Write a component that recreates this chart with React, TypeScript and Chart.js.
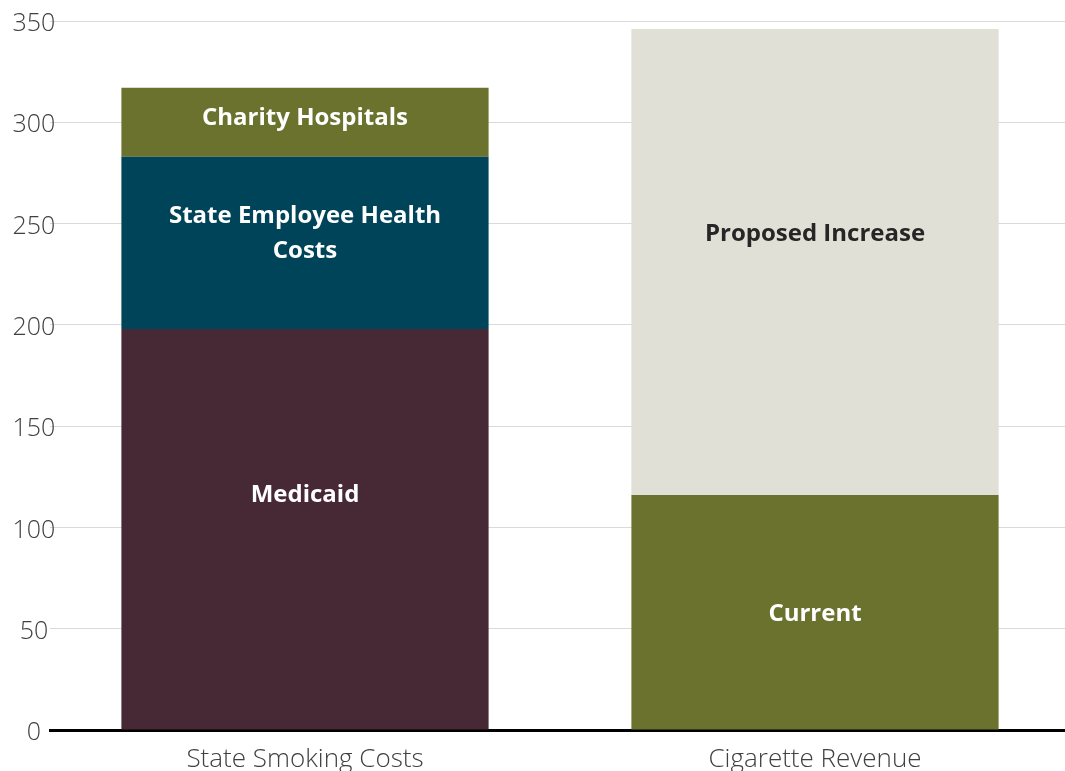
import React, { useEffect, useRef } from 'react';
import { Chart, registerables } from 'chart.js';

Chart.register(...registerables);

const categories = ['State Smoking Costs', 'Cigarette Revenue'];
const medicaid = [198, null];
const employeeHealth = [85, null];
const charityHospitals = [34, null];
const currentRevenue = [null, 116];
const proposedIncrease = [null, 230];
const yMin = 0;
const yMax = 350;
const yStep = 50;

const barLabelsPlugin = {
  id: 'barLabels',
  afterDatasetsDraw(chart: any) {
    const ctx = chart.ctx;
    chart.data.datasets.forEach((ds: any, i: number) => {
      const meta = chart.getDatasetMeta(i);
      meta.data.forEach((el: any, j: number) => {
        const v = ds.data[j];
        if (v == null) return;
        const lines: string[] = ds.labelLines || [];
        const cx = el.x;
        const cy = (el.y + el.base) / 2 + (ds.labelDy || 0);
        const lh = 35;
        ctx.save();
        ctx.font = 'bold 24px "Open Sans", sans-serif';
        ctx.fillStyle = ds.labelColor || '#ffffff';
        ctx.textAlign = 'center';
        ctx.textBaseline = 'middle';
        lines.forEach((l, k) => {
          ctx.fillText(l, cx, cy + (k - (lines.length - 1) / 2) * lh);
        });
        ctx.restore();
      });
    });
  },
};

export default function App() {
  const canvasRef = useRef<HTMLCanvasElement | null>(null);

  useEffect(() => {
    let chart: Chart | null = null;
    let cancelled = false;
    const make = () => {
      if (cancelled || !canvasRef.current) return;
      chart = new Chart(canvasRef.current, {
        type: 'bar',
        data: {
          labels: categories,
          datasets: [
            { label: 'Medicaid', data: medicaid, backgroundColor: '#472935', labelLines: ['Medicaid'], labelDy: -34 } as any,
            { label: 'State Employee Health Costs', data: employeeHealth, backgroundColor: '#004459', labelLines: ['State Employee Health', 'Costs'], labelDy: -9 } as any,
            { label: 'Charity Hospitals', data: charityHospitals, backgroundColor: '#6B722D', labelLines: ['Charity Hospitals'], labelDy: -4 } as any,
            { label: 'Current', data: currentRevenue, backgroundColor: '#6B722D', labelLines: ['Current'], labelDy: 2 } as any,
            { label: 'Proposed Increase', data: proposedIncrease, backgroundColor: '#E0E0D6', labelLines: ['Proposed Increase'], labelDy: -28, labelColor: '#262626' } as any,
          ],
        },
        options: {
          responsive: false,
          devicePixelRatio: 1,
          animation: false,
          layout: { padding: { top: 21, right: 0, left: 0, bottom: 0 } },
          datasets: { bar: { barPercentage: 0.72, categoryPercentage: 1, borderWidth: 0 } },
          plugins: { legend: { display: false }, tooltip: { enabled: false } },
          scales: {
            x: {
              stacked: true,
              grid: { display: false, drawTicks: false },
              border: { display: true, color: '#000000', width: 3 },
              ticks: {
                color: '#404040',
                font: { family: '"Open Sans", sans-serif', size: 26, weight: '300' as any },
                padding: 14,
                maxRotation: 0,
              },
              afterFit: (scale: any) => {
                scale.height = 50;
              },
            },
            y: {
              stacked: true,
              min: yMin,
              max: yMax,
              grid: { color: '#d9d9d9', lineWidth: 1, drawTicks: false },
              border: { display: false },
              ticks: {
                stepSize: yStep,
                color: '#404040',
                mirror: true,
                crossAlign: 'center',
                padding: -37.5,
                labelOffset: 3,
                font: { family: '"Open Sans", sans-serif', size: 25, weight: '300' as any },
              },
              afterFit: (scale: any) => {
                scale.width = 50;
              },
            },
          },
        },
        plugins: [barLabelsPlugin],
      });
    };
    const fontsAny = (document as any).fonts;
    if (fontsAny && fontsAny.load) {
      Promise.all([
        fontsAny.load('bold 24px "Open Sans"'),
        fontsAny.load('300 24px "Open Sans"'),
      ]).then(make, make);
    } else {
      make();
    }
    return () => {
      cancelled = true;
      if (chart) chart.destroy();
    };
  }, []);

  return (
    <div style={{ position: 'fixed', left: 0, top: 0, width: 1065, height: 771, overflow: 'hidden', background: '#ffffff' }}>
      <canvas ref={canvasRef} width={1070} height={780} style={{ display: 'block', width: 1070, height: 780 }} />
    </div>
  );
}
